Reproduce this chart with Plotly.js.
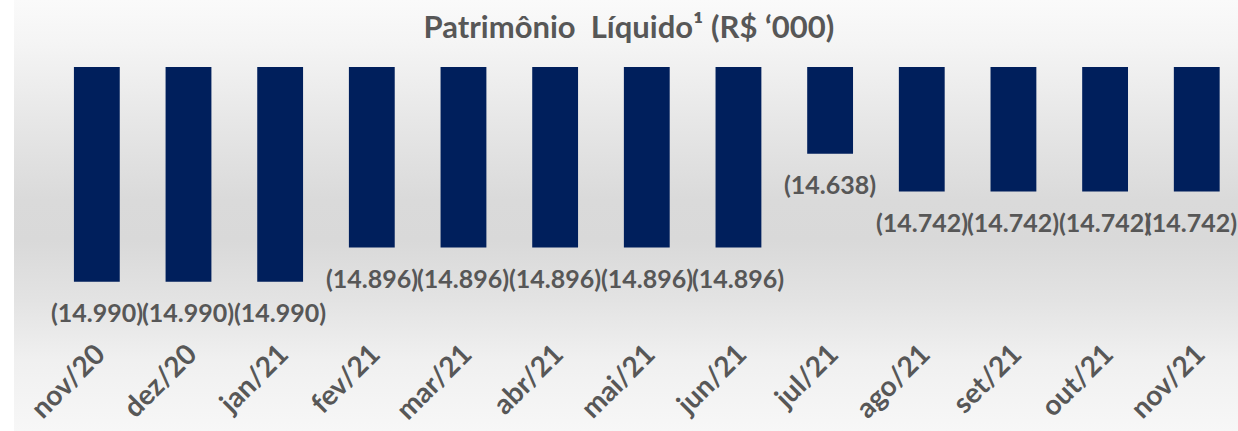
<!DOCTYPE html>
<html>
<head>
<meta charset="utf-8">
<script src="https://cdn.plot.ly/plotly-3.0.1.min.js"></script>
<style>
html,body{margin:0;padding:0;background:#ffffff;}
#wrap{position:absolute;left:0;top:0;width:1238px;height:431px;background:#ffffff;overflow:hidden;}
#bg{position:absolute;left:14px;top:0;width:1224px;height:431px;
background:linear-gradient(to bottom,#fafafa 0px,#f5f5f5 40px,#e7e7e7 120px,#dadada 200px,#d9d9d9 240px,#e3e3e3 300px,#f0f0f0 360px,#f7f7f7 431px);}
#chart{position:absolute;left:0;top:0;width:1238px;height:431px;}
</style>
</head>
<body>
<div id="wrap"><div id="bg"></div><div id="chart"></div></div>
<script>
const categories = ["nov/20","dez/20","jan/21","fev/21","mar/21","abr/21","mai/21","jun/21","jul/21","ago/21","set/21","out/21","nov/21"];
const values = [-14990,-14990,-14990,-14896,-14896,-14896,-14896,-14896,-14638,-14742,-14742,-14742,-14742];
const chartTitle = "Patrimônio\u00a0 Líquido¹ (R$ ‘000)";

function fmt(v){
  const a = Math.abs(v);
  const s = Math.floor(a/1000) + "." + String(a%1000).padStart(3,"0");
  return v < 0 ? "(" + s + ")" : s;
}

const textColor = "#575757";
const fontFam = "Lato, 'Open Sans', sans-serif";

const trace = {
  type: "bar",
  x: categories,
  y: values,
  marker: {color: "#001f5c", line: {width: 0}},
  hoverinfo: "skip"
};

const annotations = categories.map((c, i) => ({
  x: c, y: values[i], xref: "x", yref: "y",
  text: fmt(values[i]), showarrow: false,
  yanchor: "middle", xanchor: "center", yshift: -30,
  xshift: i === categories.length - 1 ? -6 : 0,
  font: {family: fontFam, size: 25, color: textColor, weight: 700}
}));

const layout = {
  width: 1238, height: 431,
  margin: {l: 51, r: 0, t: 67, b: 100},
  paper_bgcolor: "rgba(0,0,0,0)",
  plot_bgcolor: "rgba(0,0,0,0)",
  bargap: 0.5,
  showlegend: false,
  title: {
    text: chartTitle,
    x: 0.508, xanchor: "center",
    yref: "container", y: 0.937, yanchor: "middle",
    font: {family: fontFam, size: 31, color: textColor, weight: 700}
  },
  xaxis: {
    type: "category",
    range: [-0.5, 12.45],
    tickangle: -45,
    showgrid: false, zeroline: false, showline: false, ticks: "",
    tickfont: {family: fontFam, size: 28, color: textColor, weight: 700},
    fixedrange: true
  },
  yaxis: {
    range: [-15125, -14400],
    visible: false,
    showgrid: false, zeroline: false,
    fixedrange: true
  },
  annotations: annotations
};

Plotly.newPlot("chart", [trace], layout, {displayModeBar: false, staticPlot: true});
</script>
</body>
</html>
